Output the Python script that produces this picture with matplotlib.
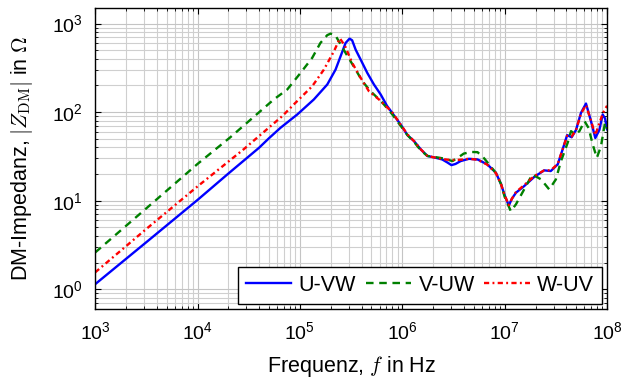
import numpy as np
import matplotlib
matplotlib.use("Agg")
import matplotlib.pyplot as plt

plt.rcParams['font.family'] = ['Liberation Sans', 'DejaVu Sans']
plt.rcParams['mathtext.fontset'] = 'cm'

# Values (log10 of frequency in Hz, impedance in Ohm)
u_vw_logf = [3.0, 3.5, 4.0, 4.3, 4.6, 4.7, 4.81, 4.974, 5.136, 5.267, 5.348, 5.397, 5.446,
             5.485, 5.51, 5.544, 5.593, 5.658, 5.723, 5.789, 5.85, 5.95, 6.0,
             6.05, 6.115, 6.18, 6.245, 6.327, 6.39, 6.44, 6.48, 6.52, 6.57, 6.65,
             6.735, 6.83, 6.914, 6.963, 7.0, 7.04, 7.07, 7.11, 7.19, 7.29, 7.386,
             7.45, 7.518, 7.566, 7.61, 7.654, 7.697, 7.745, 7.794, 7.843, 7.885,
             7.925, 7.957, 7.98, 8.0]
u_vw_z = [1.14, 3.4, 10.2, 20.2, 39.5, 51, 66.5, 94, 139, 205, 302, 427, 604,
          676, 647, 508, 392, 277, 205, 158, 118, 82, 68,
          55, 47, 38, 32, 30.5, 29.2, 27, 25.2, 26, 28, 29.7,
          29.2, 25.7, 20.7, 15.5, 11.5, 8.8, 10.5, 12.3, 14.6, 18.6, 22,
          21.6, 25.7, 37.9, 55, 52, 63, 98, 125, 79, 51,
          63, 94, 85, 64]

v_uw_logf = [3.0, 3.5, 4.0, 4.32, 4.745, 4.876, 5.006, 5.12, 5.2, 5.267, 5.3, 5.345,
             5.446, 5.544, 5.61, 5.69, 5.8, 5.9, 6.0, 6.05, 6.115, 6.18, 6.245, 6.327,
             6.4, 6.49, 6.55, 6.6, 6.67, 6.735, 6.8, 6.85, 6.914, 6.963, 7.0, 7.06,
             7.11, 7.19, 7.27, 7.355, 7.435, 7.5, 7.55, 7.615, 7.648, 7.69, 7.73,
             7.78, 7.82, 7.86, 7.9, 7.94, 7.98, 8.0]
v_uw_z = [2.6, 8.2, 26, 52, 139, 180, 277, 410, 604, 740, 770, 740,
          466, 302, 223, 172, 130, 95, 66, 55, 46, 37, 32, 31,
          30, 28, 31, 34, 35.5, 35.3, 30, 25.5, 20.5, 15.5, 11, 7.6,
          9.1, 13.4, 19.8, 17.4, 13.4, 17.4, 28, 45, 61, 56, 61,
          79, 66, 43, 30.5, 41, 76, 65]

w_uv_logf = [3.0, 3.5, 4.0, 4.45, 4.827, 4.94, 5.12, 5.234, 5.332, 5.39, 5.44, 5.51,
             5.593, 5.674, 5.772, 5.9, 6.0, 6.05, 6.115, 6.18, 6.245, 6.327,
             6.39, 6.48, 6.57, 6.65, 6.735, 6.83, 6.914, 6.963, 7.0, 7.04, 7.07,
             7.11, 7.19, 7.29, 7.386, 7.45, 7.518, 7.566, 7.61, 7.654, 7.697, 7.745,
             7.794, 7.843, 7.885, 7.925, 7.96, 8.0]
w_uv_z = [1.55, 4.8, 14.5, 38, 90, 122, 196, 302, 486, 680, 560, 360,
          244, 172, 139, 100, 68, 56, 47, 38, 32, 30.5,
          29.5, 28.7, 29, 29.7, 29, 25.5, 20.5, 15.5, 11.5, 8.9, 10.5,
          12.5, 15, 19, 22, 22, 26, 38, 54, 53, 63, 96,
          120, 80, 55, 75, 98, 118]

series = [
    ("U-VW", u_vw_logf, u_vw_z, "#0000ff", "-"),
    ("V-UW", v_uw_logf, v_uw_z, "#008000", (0, (3.2, 2.4))),
    ("W-UV", w_uv_logf, w_uv_z, "#ff0000", (0, (2.2, 1.4, 0.8, 1.4))),
]

fig = plt.figure(figsize=(6.22, 3.79), dpi=100)
ax = fig.add_axes([0.153, 0.185, 0.823, 0.794])

for name, logf, z, color, ls in series:
    ax.plot(10 ** np.array(logf), z, color=color, linestyle=ls, lw=1.7, label=name)

ax.set_xscale('log')
ax.set_yscale('log')
ax.set_xlim(1e3, 1e8)
ax.set_ylim(0.6, 1500)

ax.grid(True, which='major', color='#c4c4c4', lw=0.8)
ax.grid(True, which='minor', color='#cfcfcf', lw=0.8)
ax.set_axisbelow(True)
ax.tick_params(which='both', direction='in', top=True, right=True, labelsize=14, pad=9)
ax.tick_params(which='major', length=4)
ax.tick_params(which='minor', length=2)
for sp in ax.spines.values():
    sp.set_linewidth(1.0)

ax.set_xlabel(r"Frequenz, $f$ in Hz", fontsize=15.5, labelpad=8)
ax.set_ylabel(r"DM-Impedanz, $|Z_{\mathrm{DM}}|$ in $\Omega$", fontsize=15.5, labelpad=12)

leg = ax.legend(loc='lower right', ncol=3, fontsize=15.5, frameon=True, fancybox=False,
                edgecolor='black', framealpha=1, handlelength=2.1, columnspacing=0.45,
                handletextpad=0.35, borderpad=0.35, borderaxespad=0.25)
leg.get_frame().set_linewidth(1.0)

fig.savefig("out.png", dpi=100)
